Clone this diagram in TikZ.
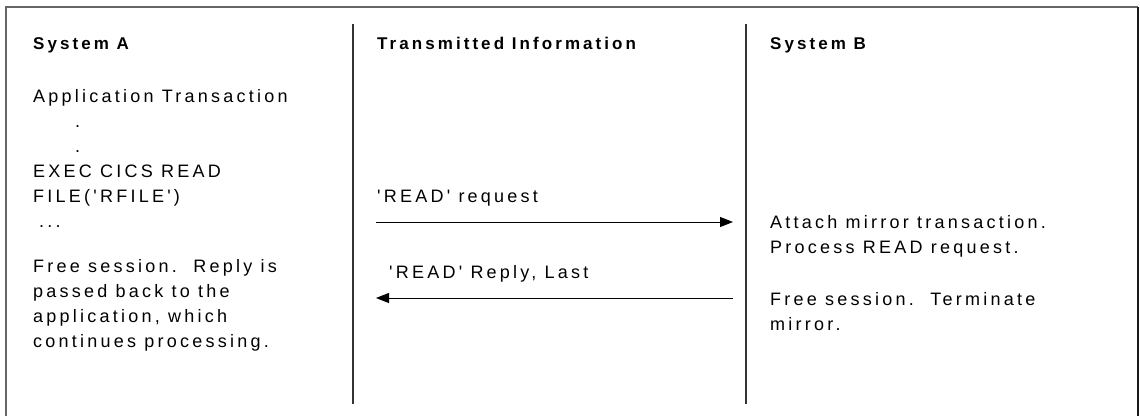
\documentclass[tikz,border=0pt]{standalone}
\usepackage{fontspec}
\setmainfont{Liberation Sans}[LetterSpace=18, Ligatures=TeXOff]
\usetikzlibrary{arrows.meta}

\tikzset{
    txt/.style={anchor=base west, inner sep=0pt, align=left,
        font=\fontsize{18}{25}\selectfont},
    head/.style={txt, font=\fontsize{17}{25}\selectfont\bfseries},
    divider/.style={line width=1.3pt, black!80},
    msg/.style={->, line width=1pt}
}

\begin{document}
\begin{tikzpicture}[x=1pt, y=-1pt, >={Triangle[length=13pt, width=10pt]}]
    \useasboundingbox (0,0) rectangle (1140,415);

    % Outer frame (open at the bottom)
    \draw[line width=1.5pt, black!60] (6,420) -- (6,7) -- (1138,7);
    \draw[line width=1.5pt, black!90] (1138,7) -- (1138,420);

    % Column dividers
    \coordinate (d1top) at (353,24);
    \coordinate (d1bot) at (353,404);
    \coordinate (d2top) at (746,24);
    \coordinate (d2bot) at (746,404);
    \draw[divider] (d1top) -- (d1bot);
    \draw[divider] (d2top) -- (d2bot);

    % Column headings
    \node[head] (sysa) at (33,49) {System A};
    \node[head] (trans) at (377,49) {Transmitted Information};
    \node[head] (sysb) at (770,49) {System B};

    % System A (nodes sit on the baseline of their last line)
    \node[txt] (appl) at (33,227) {Application Transaction\\
        \hspace*{42pt}.\\
        \hspace*{42pt}.\\
        EXEC CICS READ\\
        FILE('RFILE')\\
        \hspace*{6pt}...};
    \node[txt] (freea) at (33,347) {Free session.\ \ Reply is\\
        passed back to the\\
        application, which\\
        continues processing.};

    % System B
    \node[txt] (attach) at (770,253) {Attach mirror transaction.\\
        Process READ request.};
    \node[txt] (freeb) at (770,330) {Free session.\ \ Terminate\\
        mirror.};

    % Messages
    \coordinate (reqa) at (376,222);
    \coordinate (reqb) at (733,222);
    \coordinate (repa) at (376,298);
    \coordinate (repb) at (733,298);
    \node[txt] (reqlbl) at (377,202) {'READ' request};
    \node[txt] (replbl) at (389,278) {'READ' Reply, Last};
    \draw[msg] (reqa) -- (reqb);
    \draw[msg] (repb) -- (repa);
\end{tikzpicture}
\end{document}
